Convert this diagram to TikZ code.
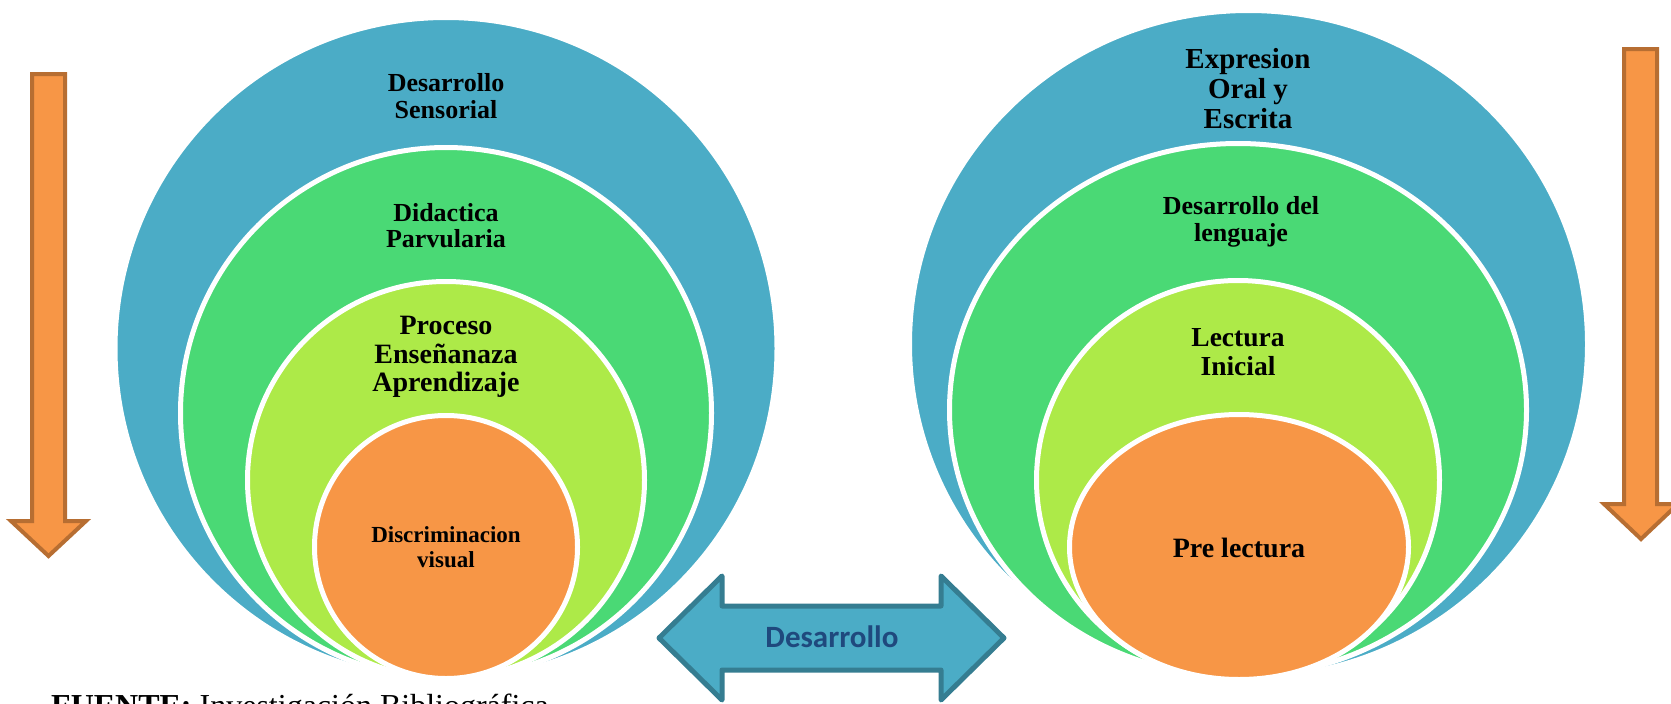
\documentclass[tikz,border=0pt]{standalone}
\usepackage{fontspec}
\setmainfont{Liberation Serif}
\newfontfamily\arrowfont{Carlito}
\usetikzlibrary{shapes.geometric}

\definecolor{ringblue}{RGB}{75,172,198}
\definecolor{ringgreen}{RGB}{74,217,117}
\definecolor{ringlime}{RGB}{173,234,72}
\definecolor{ringorange}{RGB}{247,150,70}
\definecolor{arrowedge}{RGB}{53,125,145}
\definecolor{downedge}{RGB}{183,110,50}
\definecolor{textblue}{RGB}{31,73,125}

\begin{document}
\begin{tikzpicture}[x=1pt, y=-1pt]
	\tikzstyle{ring} = [circle, draw=white, line width=5pt, inner sep=0pt]
	\tikzstyle{oval} = [ellipse, draw=white, line width=5pt, inner sep=0pt]
	\tikzstyle{ringtext} = [align=center, inner sep=0pt]
	\tikzstyle{downarrow} = [fill=ringorange, draw=downedge, line width=4pt]
	\tikzstyle{bothways} = [fill=ringblue, draw=arrowedge, line width=5pt, line join=round]

	\useasboundingbox (0,0) rectangle (1671,704);

	% left set
	\node[ring, fill=ringblue, minimum size=662] (ds) at (446,348.5) {};
	\node[ring, fill=ringgreen, minimum size=531] (dp) at (446,413) {};
	\node[ring, fill=ringlime, minimum size=397] (pe) at (446,480) {};
	\node[ring, fill=ringorange, minimum size=263] (dv) at (446,547) {};

	% right set
	\node[oval, fill=ringblue, minimum width=678, minimum height=667] (eo) at (1248.5,344) {};
	\node[oval, fill=ringgreen, minimum width=577, minimum height=533] (dl) at (1238,410) {};
	\node[oval, fill=ringlime, minimum width=403, minimum height=399] (li) at (1238,480) {};
	\node[oval, fill=ringorange, minimum width=339, minimum height=265] (pl) at (1239,547) {};

	% arrows
	\draw[downarrow] (32,74) -- (65,74) -- (65,521) -- (86,521) -- (48.5,556)
		-- (11,521) -- (32,521) -- cycle;
	\draw[downarrow] (1624,49) -- (1657,49) -- (1657,504) -- (1678,504) -- (1641,539)
		-- (1604,504) -- (1624,504) -- cycle;
	\draw[bothways] (659,638) -- (722,576) -- (722,606) -- (941,606) -- (941,576)
		-- (1004,638) -- (941,700) -- (941,670) -- (722,670) -- (722,700) -- cycle;

	% texts
	\node[ringtext, font=\fontsize{26}{27}\selectfont\bfseries] (tds) at (446,96) {Desarrollo\\Sensorial};
	\node[ringtext, font=\fontsize{26}{25.5}\selectfont\bfseries] (tdp) at (446,225.5) {Didactica\\Parvularia};
	\node[ringtext, font=\fontsize{28}{28.5}\selectfont\bfseries] (tpe) at (446,357) {Proceso\\Enseñanaza\\Aprendizaje};
	\node[ringtext, font=\fontsize{23}{25}\selectfont\bfseries] (tdv) at (446,547.5) {Discriminacion\\visual};

	\node[ringtext, font=\fontsize{29}{30}\selectfont\bfseries] (teo) at (1248,88.5) {Expresion\\Oral y\\Escrita};
	\node[ringtext, font=\fontsize{26}{27}\selectfont\bfseries] (tdl) at (1241,222) {Desarrollo del\\lenguaje};
	\node[ringtext, font=\fontsize{27.5}{29}\selectfont\bfseries] (tli) at (1238,352) {Lectura\\Inicial};
	\node[ringtext, font=\fontsize{28}{29}\selectfont\bfseries] (tpl) at (1239,547.5) {Pre lectura};

	\node[ringtext, text=textblue, font=\arrowfont\bfseries\fontsize{31}{31}\selectfont] (dvlp) at (832,637) {Desarrollo};

	\node[anchor=base west, inner sep=0pt, font=\fontsize{32}{34}\selectfont] (src) at (51,716) {\textbf{FUENTE:} Investigación Bibliográfica};
\end{tikzpicture}
\end{document}
